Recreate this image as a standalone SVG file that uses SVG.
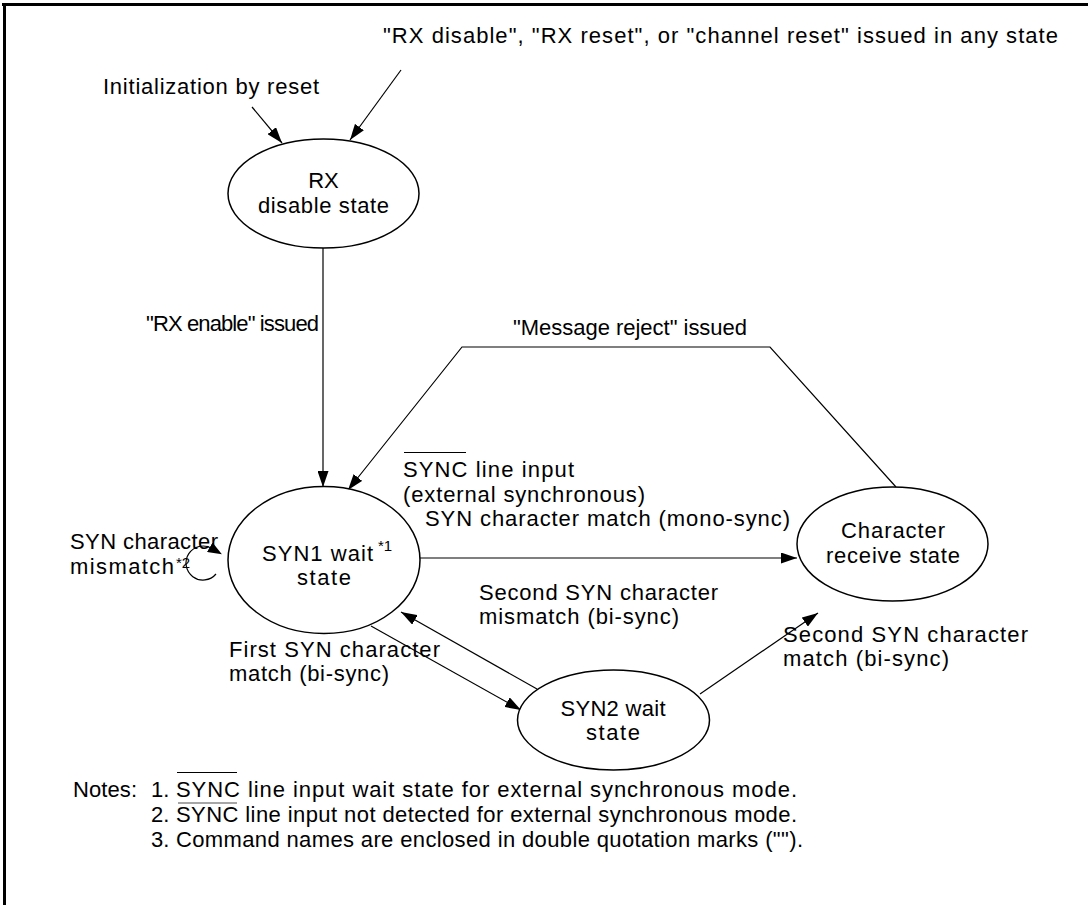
<svg xmlns="http://www.w3.org/2000/svg" width="1088" height="905" viewBox="0 0 1088 905">
<style>
text{font-family:"Liberation Sans",Arial,sans-serif;font-size:22px;fill:#000}
.sup{font-size:15px}
.c{text-anchor:middle}
.st{fill:#fff;stroke:#000;stroke-width:1.5}
.ln{fill:none;stroke:#000;stroke-width:1.2}
.ol{stroke:#000;stroke-width:1.2}
</style>
<defs>
<marker id="ah" markerUnits="userSpaceOnUse" markerWidth="16" markerHeight="11" refX="16" refY="5.5" orient="auto"><path d="M0,0 L16,5.5 L0,11 z" fill="#000"/></marker>
<marker id="ahb" markerUnits="userSpaceOnUse" markerWidth="16" markerHeight="11" refX="2" refY="5.5" orient="auto"><path d="M0,0 L14,5.5 L0,11 z" fill="#000"/></marker>
</defs>
<rect width="1088" height="905" fill="#fff"/>
<g id="frame"><line x1="2" y1="4.5" x2="1088" y2="4.5" stroke="#000" stroke-width="3"/><line x1="4.5" y1="3" x2="4.5" y2="905" stroke="#000" stroke-width="3"/></g>
<g id="connectors">
<line class="ln" x1="252" y1="107" x2="282" y2="143" marker-end="url(#ah)"/>
<line class="ln" x1="401" y1="70" x2="350" y2="140" marker-end="url(#ah)"/>
<line class="ln" x1="323" y1="248" x2="323" y2="487" marker-end="url(#ah)"/>
<polyline class="ln" points="896,487 770,347 462,347 348,490" marker-end="url(#ah)"/>
<line class="ln" x1="420" y1="558" x2="797" y2="558" marker-end="url(#ah)"/>
<line class="ln" x1="371" y1="626" x2="521" y2="710" marker-end="url(#ah)"/>
<line class="ln" x1="537" y1="689" x2="401" y2="612" marker-end="url(#ah)"/>
<line class="ln" x1="700" y1="694" x2="818" y2="613" marker-end="url(#ah)"/>
<path class="ln" d="M216,574 A17 17 0 1 1 211.5,548.3" marker-end="url(#ahb)"/>
</g>
<g id="labels">
<text x="383" y="43" textLength="675">"RX disable", "RX reset", or "channel reset" issued in any state</text>
<text x="103" y="94" textLength="216">Initialization by reset</text>
<text x="146" y="331" textLength="173">"RX enable" issued</text>
<text x="513" y="335" textLength="234">"Message reject" issued</text>
<text x="403" y="477" textLength="171">SYNC line input</text>
<line class="ol" x1="404" y1="452.5" x2="466" y2="452.5"/>
<text x="403" y="502" textLength="242">(external synchronous)</text>
<text x="425" y="526" textLength="365">SYN character match (mono-sync)</text>
<text x="70" y="549" textLength="148">SYN character</text>
<text x="70" y="574" textLength="104">mismatch</text>
<text class="sup" x="176" y="568">*2</text>
<text x="479" y="600" textLength="239">Second SYN character</text>
<text x="479" y="624" textLength="200">mismatch (bi-sync)</text>
<text x="229" y="657" textLength="211">First SYN character</text>
<text x="229" y="681" textLength="160">match (bi-sync)</text>
<text x="783" y="642" textLength="245">Second SYN character</text>
<text x="783" y="666" textLength="166">match (bi-sync)</text>
</g>
<g id="rx-disable"><ellipse class="st" cx="323.5" cy="193.5" rx="95.5" ry="54.5"/><text class="c" x="323.5" y="188">RX</text><text class="c" x="323.5" y="213" textLength="131">disable state</text></g>
<g id="syn1-wait"><ellipse class="st" cx="324" cy="560" rx="96" ry="73.5"/><text x="262" y="561" textLength="111">SYN1 wait</text><text class="sup" x="378" y="551">*1</text><text class="c" x="324" y="585" textLength="54">state</text></g>
<g id="char-receive"><ellipse class="st" cx="892.5" cy="544" rx="95.5" ry="57"/><text class="c" x="893" y="538" textLength="104">Character</text><text class="c" x="893" y="563" textLength="134">receive state</text></g>
<g id="syn2-wait"><ellipse class="st" cx="613.5" cy="720" rx="96" ry="50"/><text class="c" x="613" y="716" textLength="105">SYN2 wait</text><text class="c" x="613" y="740" textLength="54">state</text></g>
<g id="notes">
<text x="73" y="797" textLength="64">Notes:</text>
<text x="151" y="797">1.</text>
<text x="176" y="797" textLength="621">SYNC line input wait state for external synchronous mode.</text>
<line class="ol" x1="177" y1="772.5" x2="237" y2="772.5"/>
<line x1="178" y1="803" x2="237" y2="803" stroke="#888" stroke-width="1.5"/>
<text x="151" y="822">2.</text>
<text x="176" y="822" textLength="621">SYNC line input not detected for external synchronous mode.</text>
<text x="151" y="847">3.</text>
<text x="176" y="847" textLength="627">Command names are enclosed in double quotation marks ("").</text>
</g>
</svg>
